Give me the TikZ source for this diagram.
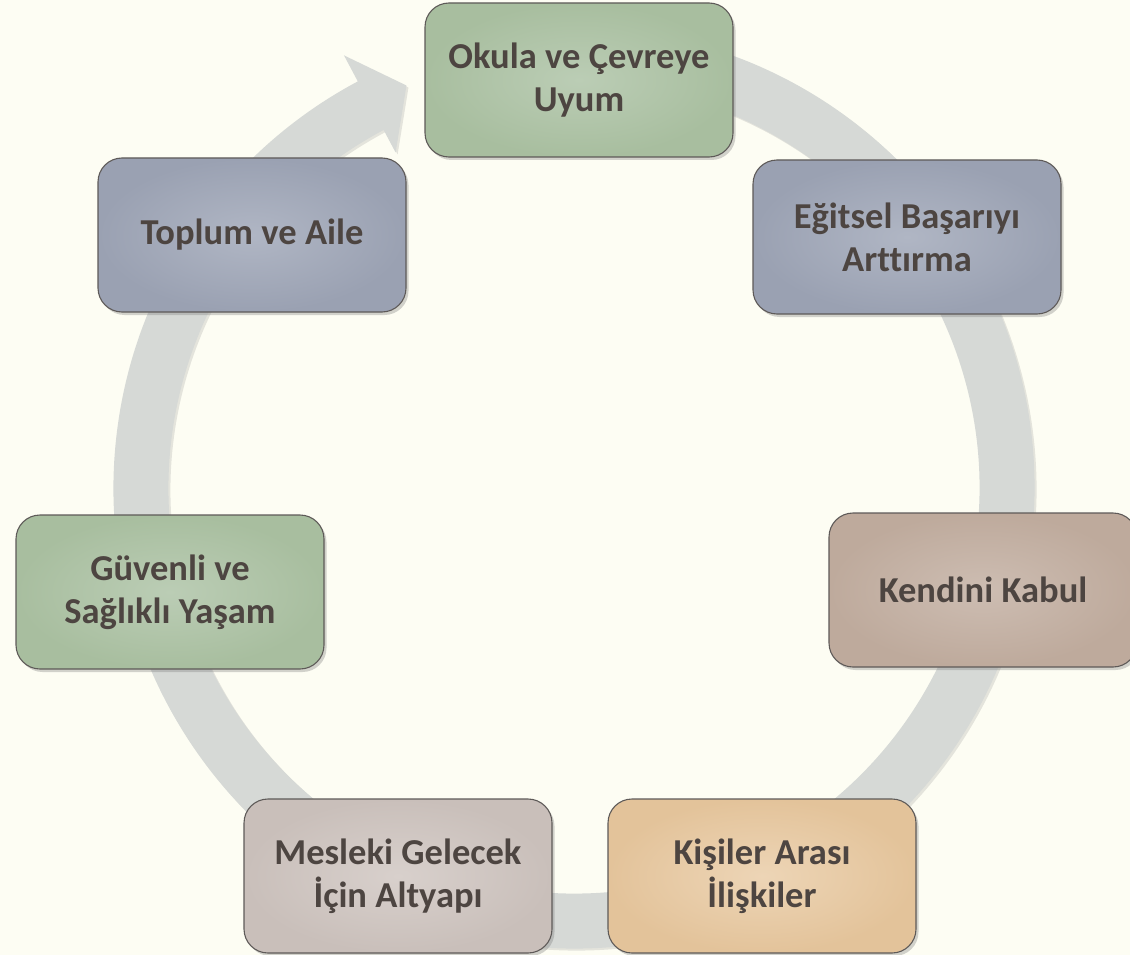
\documentclass[tikz,border=0pt]{standalone}
\usepackage{fontspec}
\setmainfont{Carlito}[Ligatures=NoCommon]
\usetikzlibrary{shadows}
\definecolor{bgcream}{HTML}{FDFDF3}
\definecolor{ringgray}{HTML}{D6D9D6}
\definecolor{boxedge}{HTML}{5E5A58}
\definecolor{txtbrown}{HTML}{4D4541}
\definecolor{greenout}{HTML}{A8BE9F}
\definecolor{greenin}{HTML}{BBCDB5}
\definecolor{blueout}{HTML}{9AA1B2}
\definecolor{bluein}{HTML}{B0B6C4}
\definecolor{roseout}{HTML}{BEAA9C}
\definecolor{rosein}{HTML}{CDBDB2}
\definecolor{tanout}{HTML}{E3C39A}
\definecolor{tanin}{HTML}{EDD5B6}
\definecolor{greyout}{HTML}{C9BFBA}
\definecolor{greyin}{HTML}{D8D0CC}

\begin{document}
\begin{tikzpicture}[x=1pt,y=1pt,
  box/.style={rounded corners=24pt, draw=boxedge, line width=1.1pt,
    minimum width=308pt, minimum height=154pt, text width=295pt, align=center,
    text=txtbrown, font=\fontsize{36.5}{43}\selectfont\bfseries,
    execute at begin node={\spaceskip=0.23em\relax},
    drop shadow={shadow xshift=2.5pt,shadow yshift=-3pt,opacity=0.35}},
  greenbox/.style={box, inner color=greenin, outer color=greenout},
  bluebox/.style={box, inner color=bluein, outer color=blueout},
  rosebox/.style={box, inner color=rosein, outer color=roseout},
  tanbox/.style={box, inner color=tanin, outer color=tanout},
  greybox/.style={box, inner color=greyin, outer color=greyout}]
\fill[bgcream] (0,0) rectangle (1130,-955);
\useasboundingbox (0,0) rectangle (1130,-955);
%
% the ring
\begin{scope}[shift={(574,-488)}]
\fill[ringgray, drop shadow={shadow xshift=2pt,shadow yshift=-2pt,opacity=0.2}]
  (80:460.5) arc[start angle=80, end angle=-242, radius=460.5]
  -- (-242:490) -- (-247.4:436) -- (-242:380) -- (-242:405.5)
  arc[start angle=-242, end angle=80, radius=405.5] -- cycle;
\end{scope}
%
\node[greenbox] (okula) at (579,-80) {Okula ve Çevreye\\Uyum};
\node[bluebox] (egitsel) at (907,-237) {Eğitsel Başarıyı\\Arttırma};
\node[rosebox] (kendini) at (983,-590) {Kendini Kabul};
\node[tanbox] (kisiler) at (762,-876) {Kişiler Arası\\İlişkiler};
\node[greybox] (mesleki) at (398,-876) {Mesleki Gelecek\\İçin Altyapı};
\node[greenbox] (guvenli) at (170,-592) {Güvenli ve\\Sağlıklı Yaşam};
\node[bluebox] (toplum) at (252,-235) {Toplum ve Aile};
\end{tikzpicture}
\end{document}
